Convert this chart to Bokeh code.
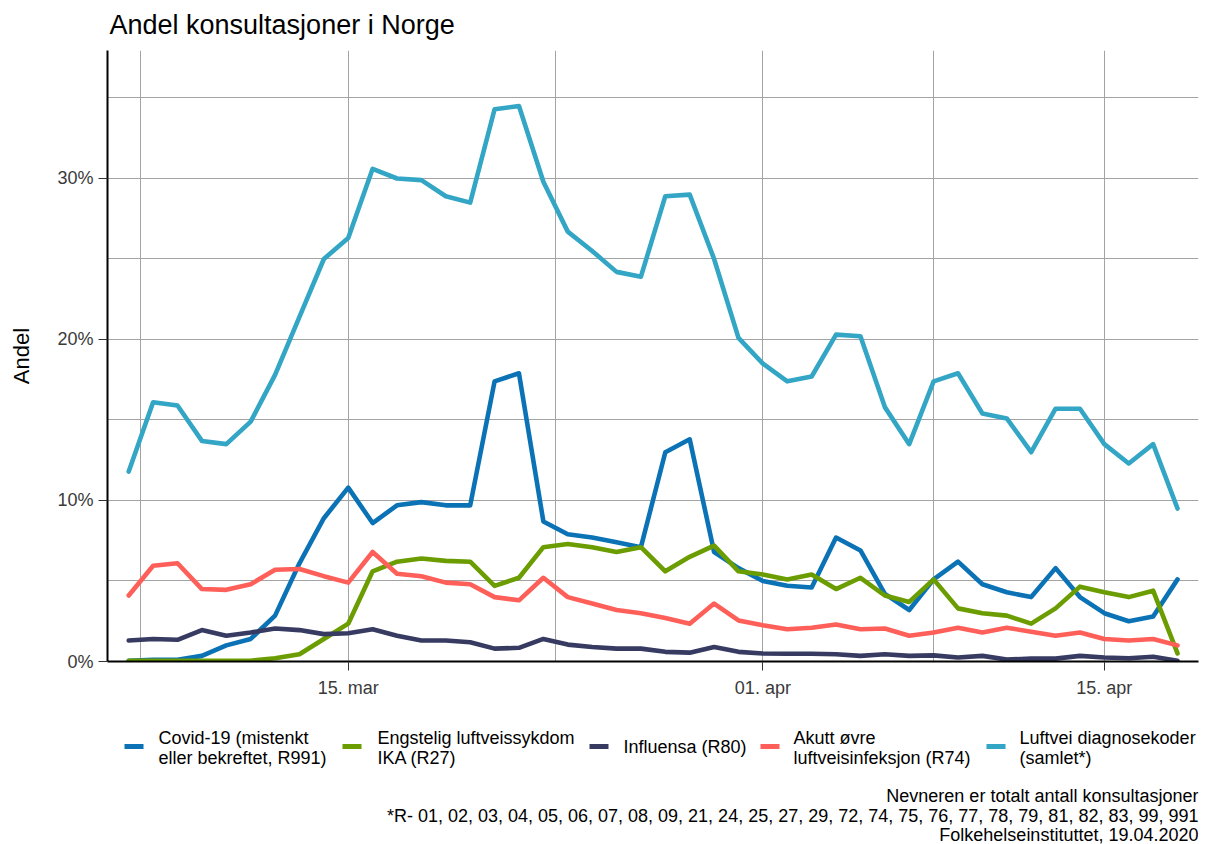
import pandas as pd
from bokeh.plotting import figure
from bokeh.layouts import column
from bokeh.models import Range1d, FixedTicker, PrintfTickFormatter
from bokeh.core.properties import value
from bokeh.embed import file_html
from bokeh.resources import INLINE

# ---------------- data ----------------
dates = pd.date_range("2020-03-06", "2020-04-18", freq="D")

covid = [0.05, 0.1, 0.1, 0.35, 1.0, 1.4, 2.85, 6.1, 8.9, 10.8,
         8.6, 9.7, 9.9, 9.7, 9.7, 17.4, 17.9,
         8.7, 7.9, 7.7, 7.4, 7.1, 13.0, 13.8, 6.8, 5.8,
         5.0, 4.7, 4.6, 7.7, 6.9,
         4.2, 3.2, 5.1, 6.2, 4.8, 4.3, 4.0, 5.8, 4.0, 3.0, 2.5, 2.8, 5.1]
ika = [0.05, 0.05, 0.05, 0.05, 0.05, 0.05, 0.2, 0.45, 1.4, 2.35,
       5.6, 6.2, 6.4, 6.25, 6.2, 4.7, 5.2,
       7.1, 7.3, 7.1, 6.8, 7.1, 5.6, 6.5, 7.2, 5.6,
       5.4, 5.1, 5.4, 4.5, 5.2,
       4.1, 3.7, 5.1, 3.3, 3.0, 2.85, 2.35, 3.3, 4.65, 4.3, 4.0, 4.4, 0.5]
influensa = [1.3, 1.4, 1.35, 1.95, 1.6, 1.8, 2.05, 1.95, 1.7, 1.75,
             2.0, 1.6, 1.3, 1.3, 1.2, 0.8, 0.85,
             1.4, 1.05, 0.9, 0.8, 0.8, 0.6, 0.55, 0.9, 0.6,
             0.5, 0.48, 0.48, 0.45, 0.35,
             0.45, 0.35, 0.38, 0.25, 0.35, 0.12, 0.18, 0.18, 0.35, 0.25, 0.2, 0.3, 0.05]
akutt = [4.1, 5.95, 6.1, 4.5, 4.45, 4.8, 5.7, 5.75, 5.3, 4.9,
         6.8, 5.45, 5.3, 4.9, 4.8, 4.0, 3.8,
         5.2, 4.0, 3.6, 3.2, 3.0, 2.7, 2.35, 3.6, 2.55,
         2.25, 2.0, 2.1, 2.3, 2.0,
         2.05, 1.6, 1.8, 2.1, 1.8, 2.1, 1.85, 1.6, 1.8, 1.4, 1.3, 1.4, 1.0]
luftvei = [11.8, 16.1, 15.9, 13.7, 13.5, 14.9, 17.8, 21.4, 25.0, 26.3,
           30.6, 30.0, 29.9, 28.9, 28.5, 34.3, 34.5,
           29.8, 26.7, 25.5, 24.2, 23.9, 28.9, 29.0, 25.0, 20.1,
           18.5, 17.4, 17.7, 20.3, 20.2,
           15.8, 13.5, 17.4, 17.9, 15.4, 15.1, 13.0, 15.7, 15.7, 13.5, 12.3, 13.5, 9.5]

series_values = [covid, ika, influensa, akutt, luftvei]
series_colors = ["#0b73b5", "#6b9c00", "#373b62", "#ff5f59", "#33a5c5"]
legend_labels = [["Covid-19 (mistenkt", "eller bekreftet, R991)"],
                 ["Engstelig luftveissykdom", "IKA (R27)"],
                 ["Influensa (R80)"],
                 ["Akutt \u00f8vre", "luftveisinfeksjon (R74)"],
                 ["Luftvei diagnosekoder", "(samlet*)"]]

x_tick_dates = ["2020-03-15", "2020-04-01", "2020-04-15"]
x_tick_labels = ["15. mar", "01. apr", "15. apr"]
x_minor_dates = ["2020-03-06 12:00", "2020-03-23 12:00", "2020-04-08 00:00"]
y_ticks = [0, 10, 20, 30]
y_minor = [5, 15, 25, 35]

title_text = "Andel konsultasjoner i Norge"
y_title = "Andel"
captions = ["Nevneren er totalt antall konsultasjoner",
            "*R- 01, 02, 03, 04, 05, 06, 07, 08, 09, 21, 24, 25, 27, 29, 72, 74, 75, 76, 77, 78, 79, 81, 82, 83, 99, 991",
            "Folkehelseinstituttet, 19.04.2020"]

# ---------------- helpers ----------------
def ms(d):
    return float(pd.Timestamp(d).value // 10**6)

DAY = 86400000.0
FONT = "Liberation Sans"
W = 1206
MAIN_H = 705
LEG_H = 139
F_LEFT, F_RIGHT = 107, 1198

x_start = ms(dates[0]) - 0.87 * DAY
x_end = ms(dates[-1]) + 0.86 * DAY
y_max = max(max(v) for v in series_values) * 1.1

# ---------------- main plot ----------------
p = figure(width=W, height=MAIN_H, x_axis_type="datetime",
           x_range=Range1d(x_start, x_end), y_range=Range1d(0, y_max),
           output_backend="svg", toolbar_location=None,
           min_border_left=F_LEFT, min_border_right=W - F_RIGHT,
           min_border_top=50, min_border_bottom=MAIN_H - 661)

p.background_fill_color = "white"
p.border_fill_color = "white"
p.outline_line_color = None

p.title.text = title_text
p.title.text_font = FONT
p.title.text_font_size = "27px"
p.title.text_font_style = "normal"
p.title.text_color = "black"
p.title.align = "left"
p.title.vertical_align = "top"
p.title.offset = 2
p.title.standoff = 17

for vals, col in zip(series_values, series_colors):
    p.line(x=dates, y=vals, line_color=col, line_width=4.6, line_join="round", line_cap="round")

xt = FixedTicker(ticks=[ms(d) for d in x_tick_dates], minor_ticks=[ms(d) for d in x_minor_dates])
yt = FixedTicker(ticks=y_ticks, minor_ticks=y_minor)
p.xaxis.ticker = xt
p.xgrid.ticker = xt
p.yaxis.ticker = yt
p.ygrid.ticker = yt
p.xaxis.major_label_overrides = {ms(d): lab for d, lab in zip(x_tick_dates, x_tick_labels)}
p.yaxis.formatter = PrintfTickFormatter(format="%d%%")

for g in (p.xgrid, p.ygrid):
    g.grid_line_color = "#a3a3a3"
    g.grid_line_width = 1
    g.minor_grid_line_color = "#a3a3a3"
    g.minor_grid_line_width = 1

for ax in (p.xaxis, p.yaxis):
    ax.axis_line_color = "black"
    ax.axis_line_width = 2
    ax.major_tick_line_color = "#333333"
    ax.major_tick_line_width = 1
    ax.major_tick_out = 9
    ax.major_tick_in = 0
    ax.minor_tick_line_color = None
    ax.major_label_text_font = FONT
    ax.major_label_text_font_size = "18px"
    ax.major_label_text_color = "#3a3a3a"
p.xaxis.major_label_standoff = 7
p.yaxis.major_label_standoff = 5

p.yaxis.axis_label = y_title
p.yaxis.axis_label_text_font = FONT
p.yaxis.axis_label_text_font_size = "22px"
p.yaxis.axis_label_text_font_style = "normal"
p.yaxis.axis_label_text_color = "black"
p.yaxis.axis_label_standoff = 20

# ---------------- legend + captions panel (page pixel coordinates) ----------------
q = figure(width=W, height=LEG_H,
           x_range=Range1d(F_LEFT, F_RIGHT), y_range=Range1d(MAIN_H + LEG_H, MAIN_H),
           output_backend="svg", toolbar_location=None,
           min_border_left=F_LEFT, min_border_right=W - F_RIGHT,
           min_border_top=0, min_border_bottom=0,
           x_axis_location=None, y_axis_location=None)
q.grid.visible = False
q.outline_line_color = None
q.background_fill_color = "white"
q.border_fill_color = "white"

swatch_x = [124, 342, 589, 760, 986]
text_x = [158, 377, 623, 793, 1019]
q.quad(left=swatch_x, right=[x + 19 for x in swatch_x],
       top=[743.5] * len(swatch_x), bottom=[748.5] * len(swatch_x),
       fill_color=series_colors, line_color=None)

lx, ly, lt = [], [], []
for lines, tx in zip(legend_labels, text_x):
    ys = [746] if len(lines) == 1 else [737, 757]
    for line, Y in zip(lines, ys):
        lx.append(tx)
        ly.append(Y)
        lt.append(line)
q.text(x=lx, y=ly, text=lt, text_font=value(FONT), text_font_size=value("18px"),
       text_color="black", text_align="left", text_baseline="middle")

q.text(x=[F_RIGHT] * len(captions), y=[795, 815, 834], text=captions,
       text_font=value(FONT), text_font_size=value("18px"),
       text_color="black", text_align="right", text_baseline="middle")

layout = column(p, q, spacing=0)
open("out.html", "w").write(file_html(layout, INLINE))
